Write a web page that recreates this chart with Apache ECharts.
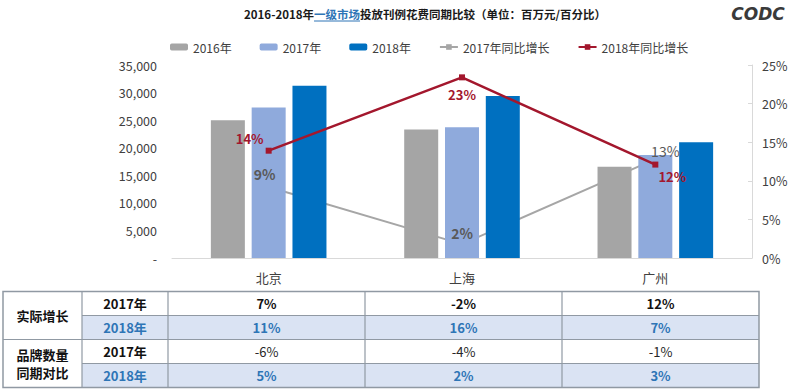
<!DOCTYPE html>
<html><head><meta charset="utf-8">
<script src="https://cdn.jsdelivr.net/npm/echarts@6/dist/echarts.min.js"></script>
<style>html,body{margin:0;padding:0;background:#fff}#c{width:800px;height:391px}</style>
</head><body><div id="c"></div>
<script>
// ---- data ----
const cities = ['北京', '上海', '广州'];
const spend2016 = [25000, 23300, 16550];
const spend2017 = [27300, 23700, 18700];
const spend2018 = [31250, 29400, 21000];
const yoy2017 = [9.2, 1.8, 12.8];
const yoy2018 = [13.9, 23.4, 12.1];
const seriesNames = ['2016年', '2017年', '2018年', '2017年同比增长', '2018年同比增长'];
const titleParts = ['2016-2018年', '一级市场', '投放刊例花费同期比较（单位：百万元/百分比）'];
const tableGroups = [['实际增长'], ['品牌数量', '同期对比']];
const tableYears = ['2017年', '2018年'];
const actualGrowth2017 = ['7%', '-2%', '12%'];
const actualGrowth2018 = ['11%', '16%', '7%'];
const brandCount2017 = ['-6%', '-4%', '-1%'];
const brandCount2018 = ['5%', '2%', '3%'];

// ---- styles ----
const FONT = '"Noto Sans CJK SC","Noto Sans",sans-serif';
const C16 = '#A5A5A5', C17 = '#8FAADC', C18 = '#0070C0', RED = '#A3172D', GRAY = '#A6A6A6';
const TBLUE = '#2E75B6', TXT = '#404040';

const chart = echarts.init(document.getElementById('c'), null, {renderer: 'svg'});

// title measurement
const ctx = document.createElement('canvas').getContext('2d');
const titleFont = 'bold 11.5px ' + FONT;
ctx.font = titleFont;
const widths = titleParts.map(t => ctx.measureText(t).width);
const totalW = widths.reduce((a, b) => a + b, 0);
let tx = 425 - totalW / 2;
const titleEls = [];
titleParts.forEach((t, i) => {
  titleEls.push({type: 'text', x: tx, y: 14, style: {text: t, font: titleFont, fill: i === 1 ? TBLUE : '#1a1a1a', align: 'left', verticalAlign: 'middle', textAlign: 'left', textVerticalAlign: 'middle'}});
  if (i === 1) titleEls.push({type: 'line', shape: {x1: tx, y1: 21, x2: tx + widths[i], y2: 21}, style: {stroke: TBLUE, lineWidth: 1}});
  tx += widths[i];
});
titleEls.push({type: 'text', x: 758, y: 14, style: {text: 'CODC', font: 'italic bold 17px "DejaVu Sans",sans-serif', fill: '#3a3a3a', align: 'center', verticalAlign: 'middle', textAlign: 'center', textVerticalAlign: 'middle'}});

// table
const xs = [3, 82, 168, 365, 562, 759];
const ys = [291.5, 315.5, 339.5, 363.5, 387.5];
const rows = [
  {year: tableYears[0], vals: actualGrowth2017, blue: false, bold: true},
  {year: tableYears[1], vals: actualGrowth2018, blue: true, bold: true},
  {year: tableYears[0], vals: brandCount2017, blue: false, bold: false},
  {year: tableYears[1], vals: brandCount2018, blue: true, bold: true}
];
const BORDER = '#9099A3';
const tbl = [];
function txt(t, x, y, fill, bold) {
  return {type: 'text', x: x, y: y, style: {text: t, font: (bold ? 'bold ' : '') + '13px ' + FONT, fill: fill, align: 'center', verticalAlign: 'middle', textAlign: 'center', textVerticalAlign: 'middle'}};
}
rows.forEach((r, i) => {
  const y0 = ys[i], y1 = ys[i + 1], cy = (y0 + y1) / 2;
  if (r.blue) tbl.push({type: 'rect', shape: {x: xs[1], y: y0, width: xs[5] - xs[1], height: y1 - y0}, style: {fill: '#DAE3F3'}});
  const col = r.blue ? TBLUE : '#111';
  tbl.push(txt(r.year, (xs[1] + xs[2]) / 2, cy, col, true));
  r.vals.forEach((v, j) => tbl.push(txt(v, (xs[j + 2] + xs[j + 3]) / 2, cy, r.blue ? TBLUE : (r.bold ? '#111' : '#262626'), r.bold)));
});
tableGroups.forEach((g, k) => {
  const mid = ys[2 * k + 1];
  g.forEach((line, m) => tbl.push(txt(line, (xs[0] + xs[1]) / 2, mid + (m - (g.length - 1) / 2) * 18, '#111', true)));
});
// borders
function ln(x1, y1, x2, y2) { return {type: 'line', shape: {x1, y1, x2, y2}, style: {stroke: BORDER, lineWidth: 1.2}}; }
tbl.push(ln(xs[1], ys[1], xs[5], ys[1]));
tbl.push(ln(xs[0], ys[2], xs[5], ys[2]));
tbl.push(ln(xs[1], ys[3], xs[5], ys[3]));
for (let k = 1; k <= 4; k++) tbl.push(ln(xs[k], ys[0], xs[k], ys[4]));
tbl.push({type: 'rect', shape: {x: xs[0], y: ys[0], width: xs[5] - xs[0], height: ys[4] - ys[0]}, style: {fill: 'none', stroke: BORDER, lineWidth: 1.5}});

// line label layouts (styling only)
const redLab = [{position: 'top', offset: [-19, 2]}, {position: 'bottom', offset: [0, 3]}, {position: 'bottom', offset: [17, -3]}];
const grayLab = [{position: 'top', offset: [-4, 0], fontWeight: 'bold'}, {position: 'top', offset: [0, 1], fontWeight: 'bold'}, {position: 'top', offset: [10, 4]}];

const barBase = {type: 'bar', barWidth: 34, barGap: '20%', z: 3, yAxisIndex: 0};
const option = {
  animation: false,
  textStyle: {fontFamily: FONT},
  grid: {left: 172, right: 48, top: 65, bottom: 133},
  legend: {
    data: seriesNames, left: 165, top: 36, itemWidth: 18, itemHeight: 7, itemGap: 28,
    textStyle: {color: TXT, fontSize: 12, fontFamily: FONT}
  },
  xAxis: {
    type: 'category', data: cities,
    axisLine: {lineStyle: {color: '#D9D9D9'}}, axisTick: {show: false},
    axisLabel: {color: TXT, fontSize: 13, margin: 13}
  },
  yAxis: [
    {type: 'value', min: 0, max: 35000, interval: 5000, splitLine: {show: false},
     axisLine: {show: false}, axisTick: {show: false},
     axisLabel: {color: TXT, fontSize: 12.5, margin: 15, formatter: v => v === 0 ? '-' : v.toLocaleString('en-US')}},
    {type: 'value', min: 0, max: 25, interval: 5, splitLine: {show: false},
     axisLine: {show: true, lineStyle: {color: '#D9D9D9'}},
     axisTick: {show: true, inside: true, length: 4, lineStyle: {color: '#D9D9D9'}},
     axisLabel: {color: TXT, fontSize: 12.5, margin: 10, formatter: '{value}%'}}
  ],
  series: [
    Object.assign({name: seriesNames[0], data: spend2016, itemStyle: {color: C16}}, barBase),
    Object.assign({name: seriesNames[1], data: spend2017, itemStyle: {color: C17}}, barBase),
    Object.assign({name: seriesNames[2], data: spend2018, itemStyle: {color: C18}}, barBase),
    {name: seriesNames[3], type: 'line', yAxisIndex: 1, data: yoy2017, z: 1,
     symbol: 'rect', symbolSize: 5, itemStyle: {color: GRAY}, lineStyle: {color: GRAY, width: 2}},
    {name: seriesNames[4], type: 'line', yAxisIndex: 1, z: 6,
     data: yoy2018.map((v, i) => ({value: v, label: redLab[i]})),
     symbol: 'rect', symbolSize: 6, itemStyle: {color: RED}, lineStyle: {color: RED, width: 2.5},
     label: {show: true, color: RED, fontWeight: 'bold', fontSize: 13, distance: 5, formatter: p => Math.round(p.value) + '%'}},
    {name: 'labels2017', type: 'line', yAxisIndex: 1, z: 7, silent: true,
     data: yoy2017.map((v, i) => ({value: v, label: grayLab[i]})),
     symbol: 'circle', symbolSize: 1, showSymbol: true, itemStyle: {color: 'rgba(0,0,0,0)'}, lineStyle: {opacity: 0},
     label: {show: true, color: '#595959', fontSize: 14, distance: 5, formatter: p => Math.round(p.value) + '%'}}
  ],
  graphic: titleEls.concat(tbl)
};
chart.setOption(option);
</script>
</body></html>
